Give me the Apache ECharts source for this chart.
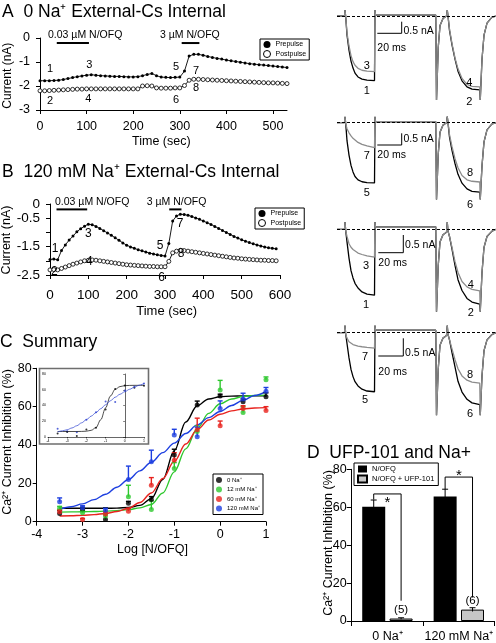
<!DOCTYPE html>
<html><head><meta charset="utf-8">
<script src="https://cdn.jsdelivr.net/npm/echarts/dist/echarts.min.js"></script>
<style>html,body{margin:0;padding:0;background:#fff;overflow:hidden}#c{width:496px;height:643px}</style>
</head><body><div id="c"></div>
<script>
// ---------------- DATA ----------------
// Panel A: 0 Na+ external (time in s, current in nA)
const timeA = [0,10,20,30,40,50,60,70,80,90,100,110,120,130,140,150,160,170,180,190,200,210,220,230,240,250,260,270,280,290,300,310,320,330,340,350,360,370,380,390,400,410,420,430,440,450,460,470,480,490,500,510,520,530];
const preA = [-1.78,-1.78,-1.78,-1.77,-1.76,-1.73,-1.69,-1.65,-1.61,-1.58,
  -1.55,-1.53,-1.55,-1.57,-1.58,-1.59,-1.6,-1.6,-1.61,-1.62,
  -1.62,-1.61,-1.57,-1.52,-1.48,-1.57,-1.63,-1.64,-1.65,-1.64,
  -1.63,-1.38,-0.75,-0.68,-0.68,-0.72,-0.77,-0.81,-0.85,-0.88,
  -0.92,-0.95,-0.98,-1.01,-1.04,-1.07,-1.09,-1.11,-1.13,-1.15,
  -1.17,-1.19,-1.21,-1.23];
const postA = [-2.2,-2.2,-2.19,-2.18,-2.17,-2.16,-2.15,-2.14,-2.13,-2.13,
  -2.12,-2.12,-2.12,-2.12,-2.12,-2.12,-2.12,-2.12,-2.12,-2.12,
  -2.12,-2.12,-2.0,-1.99,-2.0,-2.08,-2.09,-2.09,-2.09,-2.08,
  -2.08,-1.98,-1.76,-1.72,-1.72,-1.73,-1.74,-1.75,-1.76,-1.77,
  -1.78,-1.79,-1.8,-1.81,-1.82,-1.83,-1.84,-1.85,-1.86,-1.87,
  -1.87,-1.88,-1.89,-1.9];
const drugA = [[36,105],[304,342]];
const drugLabels = ['0.03 \u00b5M N/OFQ','3 \u00b5M N/OFQ'];

// Panel B: 120 mM Na+ external
const timeB = [0,10,20,30,40,50,60,70,80,90,100,110,120,130,140,150,160,170,180,190,200,210,220,230,240,250,260,270,280,290,300,310,320,330,340,350,360,370,380,390,400,410,420,430,440,450,460,470,480,490,500,510,520,530,540,550,560,570,580,590];
const preB = [-1.95,-1.94,-1.96,-1.64,-1.44,-1.27,-1.13,-0.98,-0.87,-0.78,
  -0.71,-0.73,-0.79,-0.86,-0.94,-1.02,-1.1,-1.19,-1.28,-1.37,
  -1.45,-1.51,-1.56,-1.61,-1.65,-1.69,-1.73,-1.76,-1.79,-1.81,
  -1.83,-1.39,-0.6,-0.42,-0.36,-0.37,-0.4,-0.44,-0.49,-0.54,
  -0.6,-0.66,-0.72,-0.79,-0.86,-0.93,-1.0,-1.07,-1.14,-1.2,
  -1.26,-1.31,-1.36,-1.4,-1.44,-1.48,-1.51,-1.54,-1.56,-1.58];
const postB = [-2.32,-2.31,-2.32,-2.27,-2.22,-2.17,-2.12,-2.08,-2.04,-2.0,
  -1.98,-1.97,-1.98,-2.0,-2.02,-2.04,-2.06,-2.08,-2.1,-2.12,
  -2.14,-2.15,-2.16,-2.17,-2.18,-2.19,-2.2,-2.2,-2.21,-2.21,
  -2.21,-2.02,-1.72,-1.66,-1.63,-1.64,-1.66,-1.68,-1.7,-1.72,
  -1.74,-1.76,-1.78,-1.8,-1.82,-1.84,-1.86,-1.88,-1.9,-1.91,
  -1.93,-1.94,-1.95,-1.96,-1.97,-1.98,-1.98,-1.99,-1.99,-2.0];
const drugB = [[17,97],[311,343]];
const tickLabelsB = [0,-0.5,-1.5,-2.5];

// Panel C: concentration-response
const logConc = [-3.5,-3,-2.5,-2,-1.5,-1,-0.5,0,0.5,1];
const inh0   = [4.3,6.5,1.2,9.6,11.6,34.8,60.9,65.5,62.5,65.2];
const err0   = [1.5,1,6,1,1.5,3,2,1,1.5,2];
const inh12  = [7,4.7,3,13,6.4,27.8,47,68.7,57,74];
const err12  = [1,1,1,6,4.5,3,3,5,3,1.5];
const inh60  = [5.2,1.2,4,5.5,19,32,48,50,59,58];
const err60  = [1,0.5,1,1.5,4,4,6,2.5,1.5,2];
const inh120 = [10.4,7.3,6,22,31.3,45.2,44.3,59,64,68];
const err120 = [2,1,1,7,6,3,5,4,3,2];
const fitX   = [-3.5,-3.25,-3,-2.75,-2.5,-2.25,-2,-1.75,-1.5,-1.25,-1,-0.75,-0.5,-0.25,0,0.25,0.5,0.75,1];
const fit0   = [7,7,7,7,7,7.1,7.4,8.5,12,22,37,52,60.5,64,65.2,65.5,65.6,65.6,65.6];
const fit12  = [5,5.1,5.2,5.3,5.5,5.8,6.3,7.2,9,15,26,38,48.5,56.5,61.5,64,65.3,65.8,66];
const fit60  = [3,3.1,3.3,3.7,4.3,5.3,7,10,15,22.5,31.5,40.5,48,53,56,57.8,58.8,59.3,59.5];
const fit120 = [6.5,7.8,9.3,11.5,14.3,18,22,26.5,31,36,41,46,50.5,54.3,57.5,60.6,63.3,65.8,68];
const naNames = ['0 Na\u207a','12 mM Na\u207a','60 mM Na\u207a','120 mM Na\u207a'];

// Panel D
const dCats = ['0 Na\u207a','120 mM Na\u207a'];
const nofq = [60.3,65.7];
const nofqErr = [3.5,3.8];
const ufp = [1.3,6];
const ufpErr = [0.4,1];
const nCounts = ['(5)','(6)'];
const sigTop = [67,75.9];
const sigLeft = [64,69.5];
const sigRight = [10.7,12.4];

// Current traces (time in ms, current in nA), four rows
const traceT = [0,6.0,6.4,7,8,9.6,11.2,12.8,14.4,16.8,20,24,30,30.4,30.8,32,79,79.6,80.2,81,82.4,84.8,87.6,88.2,88.8,90,92,94.4,96.8,100,104,108,114.2,114.6,115.2,116,117.6,120,124,127.2];
const tr1Black = [0,0,0.25,-0.05,-0.79,-1.42,-1.88,-2.17,-2.38,-2.54,-2.63,-2.67,-2.69,0.25,0.05,0.04,0.04,-3.5,-3.5,-1.3,-0.4,-0.1,0,0.25,0,-0.6,-1.2,-1.8,-2.3,-2.7,-2.95,-3.05,-3.08,-3.5,-3.5,-1.8,-0.8,-0.3,-0.05,0];
const tr1Gray  = [0,0,0.25,-0.05,-0.7,-1.25,-1.65,-1.9,-2.05,-2.18,-2.26,-2.3,-2.32,0.25,0.05,0.04,0.04,-3.5,-3.5,-1.3,-0.4,-0.1,0,0.25,0,-0.55,-1.15,-1.75,-2.2,-2.6,-2.85,-2.93,-2.95,-3.5,-3.5,-1.8,-0.8,-0.3,-0.05,0];
const tr2Black = [0,0,0.25,-0.05,-0.75,-1.35,-1.78,-2.05,-2.24,-2.38,-2.46,-2.5,-2.51,0.25,0.05,0.04,0.04,-3.2,-3.2,-1.3,-0.4,-0.1,0,0.25,0,-0.6,-1.15,-1.7,-2.15,-2.52,-2.76,-2.86,-2.89,-3.2,-3.2,-1.8,-0.8,-0.3,-0.05,0];
const tr2Gray  = [0,0,0.25,-0.05,-0.25,-0.42,-0.55,-0.65,-0.73,-0.82,-0.9,-0.97,-1.04,0.25,0.05,0.04,0.04,-3.2,-3.2,-1.3,-0.4,-0.1,0,0.25,0,-0.5,-1.0,-1.5,-1.88,-2.2,-2.38,-2.44,-2.47,-3.2,-3.2,-1.8,-0.8,-0.3,-0.05,0];
const tr3Black = [0,0,0.2,-0.05,-0.35,-0.8,-1.15,-1.35,-1.5,-1.63,-1.74,-1.8,-1.83,0.2,0.07,0.07,0.07,-2.29,-2.29,-1.0,-0.35,-0.15,-0.08,0.2,-0.05,-0.2,-0.55,-1.0,-1.4,-1.7,-1.92,-2.02,-2.08,-2.29,-2.29,-1.2,-0.5,-0.2,-0.05,0];
const tr3Gray  = [0,0,0.2,-0.05,-0.2,-0.4,-0.5,-0.56,-0.61,-0.66,-0.7,-0.74,-0.77,0.2,0.07,0.07,0.07,-2.29,-2.29,-1.0,-0.35,-0.15,-0.08,0.2,-0.05,-0.2,-0.5,-0.9,-1.2,-1.45,-1.6,-1.67,-1.71,-2.29,-2.29,-1.2,-0.5,-0.2,-0.05,0];
const tr4Black = [0,0,0.2,-0.05,-0.3,-0.7,-1.02,-1.22,-1.36,-1.48,-1.57,-1.62,-1.64,0.2,0.07,0.07,0.07,-2.29,-2.29,-1.0,-0.35,-0.15,-0.08,0.2,-0.05,-0.2,-0.55,-0.95,-1.35,-1.65,-1.85,-1.95,-2.0,-2.29,-2.29,-1.2,-0.5,-0.2,-0.05,0];
const tr4Gray  = [0,0,0.2,-0.05,-0.15,-0.25,-0.3,-0.33,-0.35,-0.37,-0.39,-0.41,-0.43,0.2,0.07,0.07,0.07,-2.29,-2.29,-1.0,-0.35,-0.15,-0.08,0.2,-0.05,-0.2,-0.45,-0.75,-1.0,-1.2,-1.32,-1.37,-1.4,-2.29,-2.29,-1.2,-0.5,-0.2,-0.05,0];
const traceLabels = [['3','1','4','2'],['7','5','8','6'],['3','1','4','2'],['7','5','8','6']];

// ---------------- CHART ----------------
const FONT = "'Liberation Sans', Arial, Helvetica, sans-serif";
const chart = echarts.init(document.getElementById('c'), null, {renderer:'canvas'});
const zip = (xs, ys) => xs.map((x,i)=>[x, ys[i]]);

function vAxis(grid, min, max, interval, fs, margin, extra) {
  return Object.assign({
    type:'value', gridIndex:grid, min, max, interval,
    axisLine:{show:true, onZero:false, lineStyle:{color:'#000', width:1}},
    axisTick:{show:true, length:4, lineStyle:{color:'#000', width:1}},
    splitLine:{show:false},
    axisLabel:{color:'#000', fontFamily:FONT, fontSize:fs, margin}
  }, extra || {});
}
function hidden(grid, min, max) {
  return {type:'value', gridIndex:grid, min, max, show:false, splitLine:{show:false}};
}

const grids = [
  {left:40, top:38, width:247, height:72},
  {left:50, top:204, width:230, height:71},
  {left:36.7, top:368.3, width:229.3, height:153.4},
  {left:48, top:374, width:96, height:63},
  {left:351.7, top:469.3, width:143.3, height:154.7},
  {left:337, top:4, width:159, height:96},
  {left:337, top:110.7, width:159, height:96},
  {left:337, top:211.3, width:159, height:108},
  {left:337, top:314.7, width:159, height:108}
];

const xAxes = [
  vAxis(0, 0, 530, 100, 12.5, 10, {axisLabel:{color:'#000', fontFamily:FONT, fontSize:12.5, margin:10, showMaxLabel:false}}),
  vAxis(1, 0, 600, 100, 13.5, 13),
  vAxis(2, -4, 1, 1, 12.5, 6),
  vAxis(3, -4, 1, 1, 3.5, 2, {axisTick:{show:true, length:1.5, lineStyle:{color:'#000', width:0.6}}, axisLine:{show:true, lineStyle:{color:'#000', width:0.6}}}),
  {type:'category', gridIndex:4, data:dCats,
    axisLine:{show:true, lineStyle:{color:'#000', width:1}},
    axisTick:{show:true, length:5, alignWithLabel:false, lineStyle:{color:'#000'}},
    axisLabel:{color:'#000', fontFamily:FONT, fontSize:12.5, margin:9, interval:0, hideOverlap:false}},
  hidden(5, 0, 127.2), hidden(6, 0, 127.2), hidden(7, 0, 127.2), hidden(8, 0, 127.2)
];
const yAxes = [
  vAxis(0, -3, 0, 1, 12.5, 10),
  vAxis(1, -2.5, 0, 0.5, 13.5, 10, {axisLabel:{color:'#000', fontFamily:FONT, fontSize:13.5, margin:10,
    formatter:v => tickLabelsB.some(t => Math.abs(t - v) < 1e-9) ? String(v) : ''}}),
  vAxis(2, 0, 80, 20, 12.5, 5),
  vAxis(3, 0, 80, 20, 3.5, 2, {axisTick:{show:true, length:1.5, lineStyle:{color:'#000', width:0.6}}, axisLine:{show:true, lineStyle:{color:'#000', width:0.6}}}),
  vAxis(4, 0, 80, 20, 12.5, 5, {axisTick:{show:true, length:5, lineStyle:{color:'#000'}}}),
  hidden(5, -3.5, 0.5), hidden(6, -3.5, 0.5), hidden(7, -2.5, 0.5), hidden(8, -2.5, 0.5)
];

const series = [];
// ---- A & B time courses
[[0, timeA, preA, postA, drugA, -0.21], [1, timeB, preB, postB, drugB, -0.19]].forEach(([g, t, pre, post, drugs, barY]) => {
  series.push({name:'Postpulse', type:'line', xAxisIndex:g, yAxisIndex:g, data:zip(t, post),
    symbol:'circle', symbolSize:4, itemStyle:{color:'#fff', borderColor:'#000', borderWidth:0.8},
    lineStyle:{color:'#000', width:0.9}, z:3});
  series.push({name:'Prepulse', type:'line', xAxisIndex:g, yAxisIndex:g, data:zip(t, pre),
    symbol:'circle', symbolSize:3, itemStyle:{color:'#000'},
    lineStyle:{color:'#000', width:0.9}, z:4});
  drugs.forEach(d => series.push({type:'line', xAxisIndex:g, yAxisIndex:g, silent:true,
    data:[[d[0], barY],[d[1], barY]], symbol:'none', lineStyle:{color:'#000', width:2}}));
});

// ---- C concentration-response
const cSets = [
  [naNames[0], inh0, err0, fit0, '#000000'],
  [naNames[1], inh12, err12, fit12, '#2ec82e'],
  [naNames[2], inh60, err60, fit60, '#e8231e'],
  [naNames[3], inh120, err120, fit120, '#1d3fe0']
];
function errBars(xIdx, yIdx, data, color, w, capW, offFn) {
  return {type:'custom', xAxisIndex:xIdx, yAxisIndex:yIdx, silent:true, z:3, data,
    renderItem(params, api) {
      const off = offFn ? offFn(api.value(0)) : 0;
      const p0 = api.coord([api.value(0), api.value(1)]);
      const p1 = api.coord([api.value(0), api.value(2)]);
      const x = p0[0] + off;
      return {type:'group', children:[
        {type:'line', shape:{x1:x, y1:p0[1], x2:x, y2:p1[1]}, style:{stroke:color, lineWidth:w}},
        {type:'line', shape:{x1:x-capW, y1:p1[1], x2:x+capW, y2:p1[1]}, style:{stroke:color, lineWidth:w}}
      ]};
    }};
}
cSets.forEach(([name, ys, es, fit, color]) => {
  series.push({type:'line', xAxisIndex:2, yAxisIndex:2, data:zip(fitX, fit), symbol:'none', smooth:0.35,
    smoothMonotone:'x', lineStyle:{color, width:1.4}, silent:true, z:2});
  series.push(errBars(2, 2, logConc.map((x,i)=>[x, ys[i], ys[i]+es[i]]), color, 1.4, 2.5));
  series.push({name, type:'scatter', xAxisIndex:2, yAxisIndex:2, data:zip(logConc, ys), symbol:'circle',
    symbolSize:5, itemStyle:{color}, z:4});
});
// inset (0 Na+ and 120 mM Na+)
[[fit0, inh0, '#000'], [fit120, inh120, '#2a3fd0']].forEach(([fit, ys, color]) => {
  series.push({type:'line', xAxisIndex:3, yAxisIndex:3, data:zip(fitX, fit), symbol:'none', smooth:0.35,
    smoothMonotone:'x', lineStyle:{color, width:0.7}, silent:true});
  series.push({type:'scatter', xAxisIndex:3, yAxisIndex:3, data:zip(logConc, ys), symbolSize:2,
    itemStyle:{color}, silent:true});
});

// ---- D bars
const BW = 23, HALF = 13.7;
series.push({name:'N/OFQ', type:'bar', xAxisIndex:4, yAxisIndex:4, data:nofq, barWidth:BW, barGap:'19%',
  itemStyle:{color:'#000'}, z:2});
series.push({name:'N/OFQ + UFP-101', type:'bar', xAxisIndex:4, yAxisIndex:4, data:ufp, barWidth:BW,
  itemStyle:{color:'#c6c6c6', borderColor:'#000', borderWidth:1}, z:2,
  label:{show:true, position:'top', distance:3, color:'#000', fontFamily:FONT, fontSize:11.5,
    formatter:p => nCounts[p.dataIndex]}});
series.push(errBars(4, 4, nofq.map((v,i)=>[i, v-nofqErr[i], v+nofqErr[i]]), '#000', 1, 3, () => -HALF));
series.push(errBars(4, 4, ufp.map((v,i)=>[i, v-ufpErr[i], v+ufpErr[i]]), '#000', 1, 3, () => HALF));
series.push({type:'custom', xAxisIndex:4, yAxisIndex:4, silent:true, z:5,
  data: sigTop.map((v,i)=>[i, v, sigLeft[i], sigRight[i]]),
  renderItem(params, api) {
    const i = api.value(0);
    const c = api.coord([i, api.value(1)]);
    const lx = c[0]-HALF, rx = c[0]+HALF;
    const yl = api.coord([i, api.value(2)])[1], yr = api.coord([i, api.value(3)])[1];
    return {type:'group', children:[
      {type:'polyline', shape:{points:[[lx,yl],[lx,c[1]],[rx,c[1]],[rx,yr]]}, style:{stroke:'#000', fill:null, lineWidth:1}},
      {type:'text', x:(lx+rx)/2, y:c[1] + (i === 0 ? 9 : -1),
        style:{text:'*', fill:'#000', font:'15px ' + FONT, align:'center', verticalAlign:'middle', textAlign:'center', textVerticalAlign:'middle'}}
    ]};
  }});

// ---- current traces
[[tr1Black, tr1Gray], [tr2Black, tr2Gray], [tr3Black, tr3Gray], [tr4Black, tr4Gray]].forEach(([k, gr], j) => {
  const ax = 5 + j;
  series.push({type:'line', xAxisIndex:ax, yAxisIndex:ax, data:zip(traceT, k), symbol:'none', silent:true,
    lineStyle:{color:'#000', width:1.3}, z:2,
    markLine:{silent:true, symbol:'none', label:{show:false}, animation:false,
      lineStyle:{color:'#000', width:1, type:[3,2]}, data:[{yAxis:0}]}});
  series.push({type:'line', xAxisIndex:ax, yAxisIndex:ax, data:zip(traceT, gr), symbol:'none', silent:true,
    lineStyle:{color:'#8c8c8c', width:1.3}, z:3});
});

// ---- text & decorations
function txt(x, y, text, size, align, rot) {
  const el = {type:'text', x, y, silent:true, z:100,
    style:{text, fill:'#000', font:size + 'px ' + FONT, align:align||'left', verticalAlign:'middle',
      textAlign:align||'left', textVerticalAlign:'middle'}};
  if (rot) el.rotation = rot;
  return el;
}
function ln(x1, y1, x2, y2, w) {
  return {type:'line', silent:true, z:100, shape:{x1,y1,x2,y2}, style:{stroke:'#000', lineWidth:w||1}};
}
const R = Math.PI/2;
const graphic = [
  txt(2, 12, 'A  0 Na\u207a External-Cs Internal', 17.5),
  txt(2, 172, 'B  120 mM Na\u207a External-Cs Internal', 17.5),
  txt(0, 342, 'C  Summary', 17.5),
  txt(307, 453, 'D  UFP-101 and Na+', 17.5),
  txt(7.5, 75.7, 'Current (nA)', 12, 'center', R),
  txt(7, 240, 'Current (nA)', 12.5, 'center', R),
  txt(7.5, 442, 'Ca\u00b2\u207a Current Inhibition (%)', 12.5, 'center', R),
  txt(328.3, 543, 'Ca\u00b2\u207a Current Inhibition (%)', 12.5, 'center', R),
  txt(161.3, 142, 'Time (sec)', 12.5, 'center'),
  txt(166.7, 311.7, 'Time (sec)', 13, 'center'),
  txt(152.5, 550, 'Log [N/OFQ]', 12.5, 'center'),
  txt(48, 35, drugLabels[0], 10.5), txt(160, 35, drugLabels[1], 10.5),
  txt(55, 201.7, drugLabels[0], 10.5), txt(146.7, 201.7, drugLabels[1], 10.5),
  // A numbers
  txt(50,69.3,'1',11,'center'), txt(89.3,65,'3',11,'center'), txt(176,67.3,'5',11,'center'), txt(196,71,'7',11,'center'),
  txt(50,101,'2',11,'center'), txt(88.3,99.3,'4',11,'center'), txt(176,100,'6',11,'center'), txt(196,88.3,'8',11,'center'),
  // B numbers
  txt(55,249,'1',12,'center'), txt(88.3,233.3,'3',12,'center'), txt(160,246,'5',12,'center'), txt(180,223.3,'7',12,'center'),
  txt(54.3,271.7,'2',12,'center'), txt(89.3,261.7,'4',12,'center'), txt(161.7,277.3,'6',12,'center'), txt(181,254,'8',12,'center'),
  // inset frame
  {type:'rect', silent:true, z:100, shape:{x:39.5, y:368.5, width:109, height:75.5}, style:{fill:null, stroke:'#6e6e6e', lineWidth:1.6}}
];
// trace labels and scale bars
const trPos = [
  [[366.7,66],[366.7,90.7],[469.3,82.7],[469.3,101.7]],
  [[366.7,156],[366.7,192.7],[470,172.7],[470,205]],
  [[366,266],[366,305],[470.7,285],[470.7,313.3]],
  [[365,356.7],[365,400],[470,375],[470,414]]
];
trPos.forEach((ps, j) => ps.forEach((p, k) => graphic.push(txt(p[0], p[1], traceLabels[j][k], 11, 'center'))));
const sb = [
  [401.7, 21.7, 33.3, 377.3, 31, 48.3],
  [401.7, 133.3, 145, 377.3, 139, 155],
  [403.3, 235, 252.7, 378.3, 245, 262.7],
  [403.3, 338.3, 356, 378.3, 353, 372.3]
];
sb.forEach(([vx, y1, y2, hx, ty, ty2]) => {
  graphic.push(ln(vx, y1, vx, y2), ln(hx, y2, vx, y2));
  graphic.push(txt(vx + 1.8, ty, '0.5 nA', 10.5), txt(hx, ty2, '20 ms', 10.5));
});

const legendBase = {orient:'vertical', borderColor:'#000', borderWidth:1, selectedMode:false,
  textStyle:{color:'#000', fontFamily:FONT}};
const abLegendData = [
  {name:'Prepulse', icon:'circle', itemStyle:{color:'#000'}},
  {name:'Postpulse', icon:'circle', itemStyle:{color:'#fff', borderColor:'#000', borderWidth:1}}
];
const legend = [
  Object.assign({}, legendBase, {left:260, top:39, data:abLegendData, itemWidth:7, itemHeight:7, itemGap:2,
    padding:[2,3,2,3], textStyle:{color:'#000', fontFamily:FONT, fontSize:7}}),
  Object.assign({}, legendBase, {left:255, top:208, data:abLegendData, itemWidth:7, itemHeight:7, itemGap:2,
    padding:[2,3,2,3], textStyle:{color:'#000', fontFamily:FONT, fontSize:7}}),
  Object.assign({}, legendBase, {left:213, top:474, data:naNames.map(n=>({name:n, icon:'circle'})),
    itemWidth:6, itemHeight:6, itemGap:3.5, padding:[3,3,3,3], textStyle:{color:'#000', fontFamily:FONT, fontSize:6}}),
  Object.assign({}, legendBase, {left:354, top:463, data:[{name:'N/OFQ', icon:'rect'},{name:'N/OFQ + UFP-101', icon:'rect'}],
    itemWidth:9, itemHeight:7, itemGap:1.5, padding:[2,4,2,3], textStyle:{color:'#000', fontFamily:FONT, fontSize:7.5}})
];

chart.setOption({
  animation:false,
  backgroundColor:'#fff',
  textStyle:{fontFamily:FONT},
  grid:grids, xAxis:xAxes, yAxis:yAxes, series, legend, graphic
});
</script>
</body></html>
